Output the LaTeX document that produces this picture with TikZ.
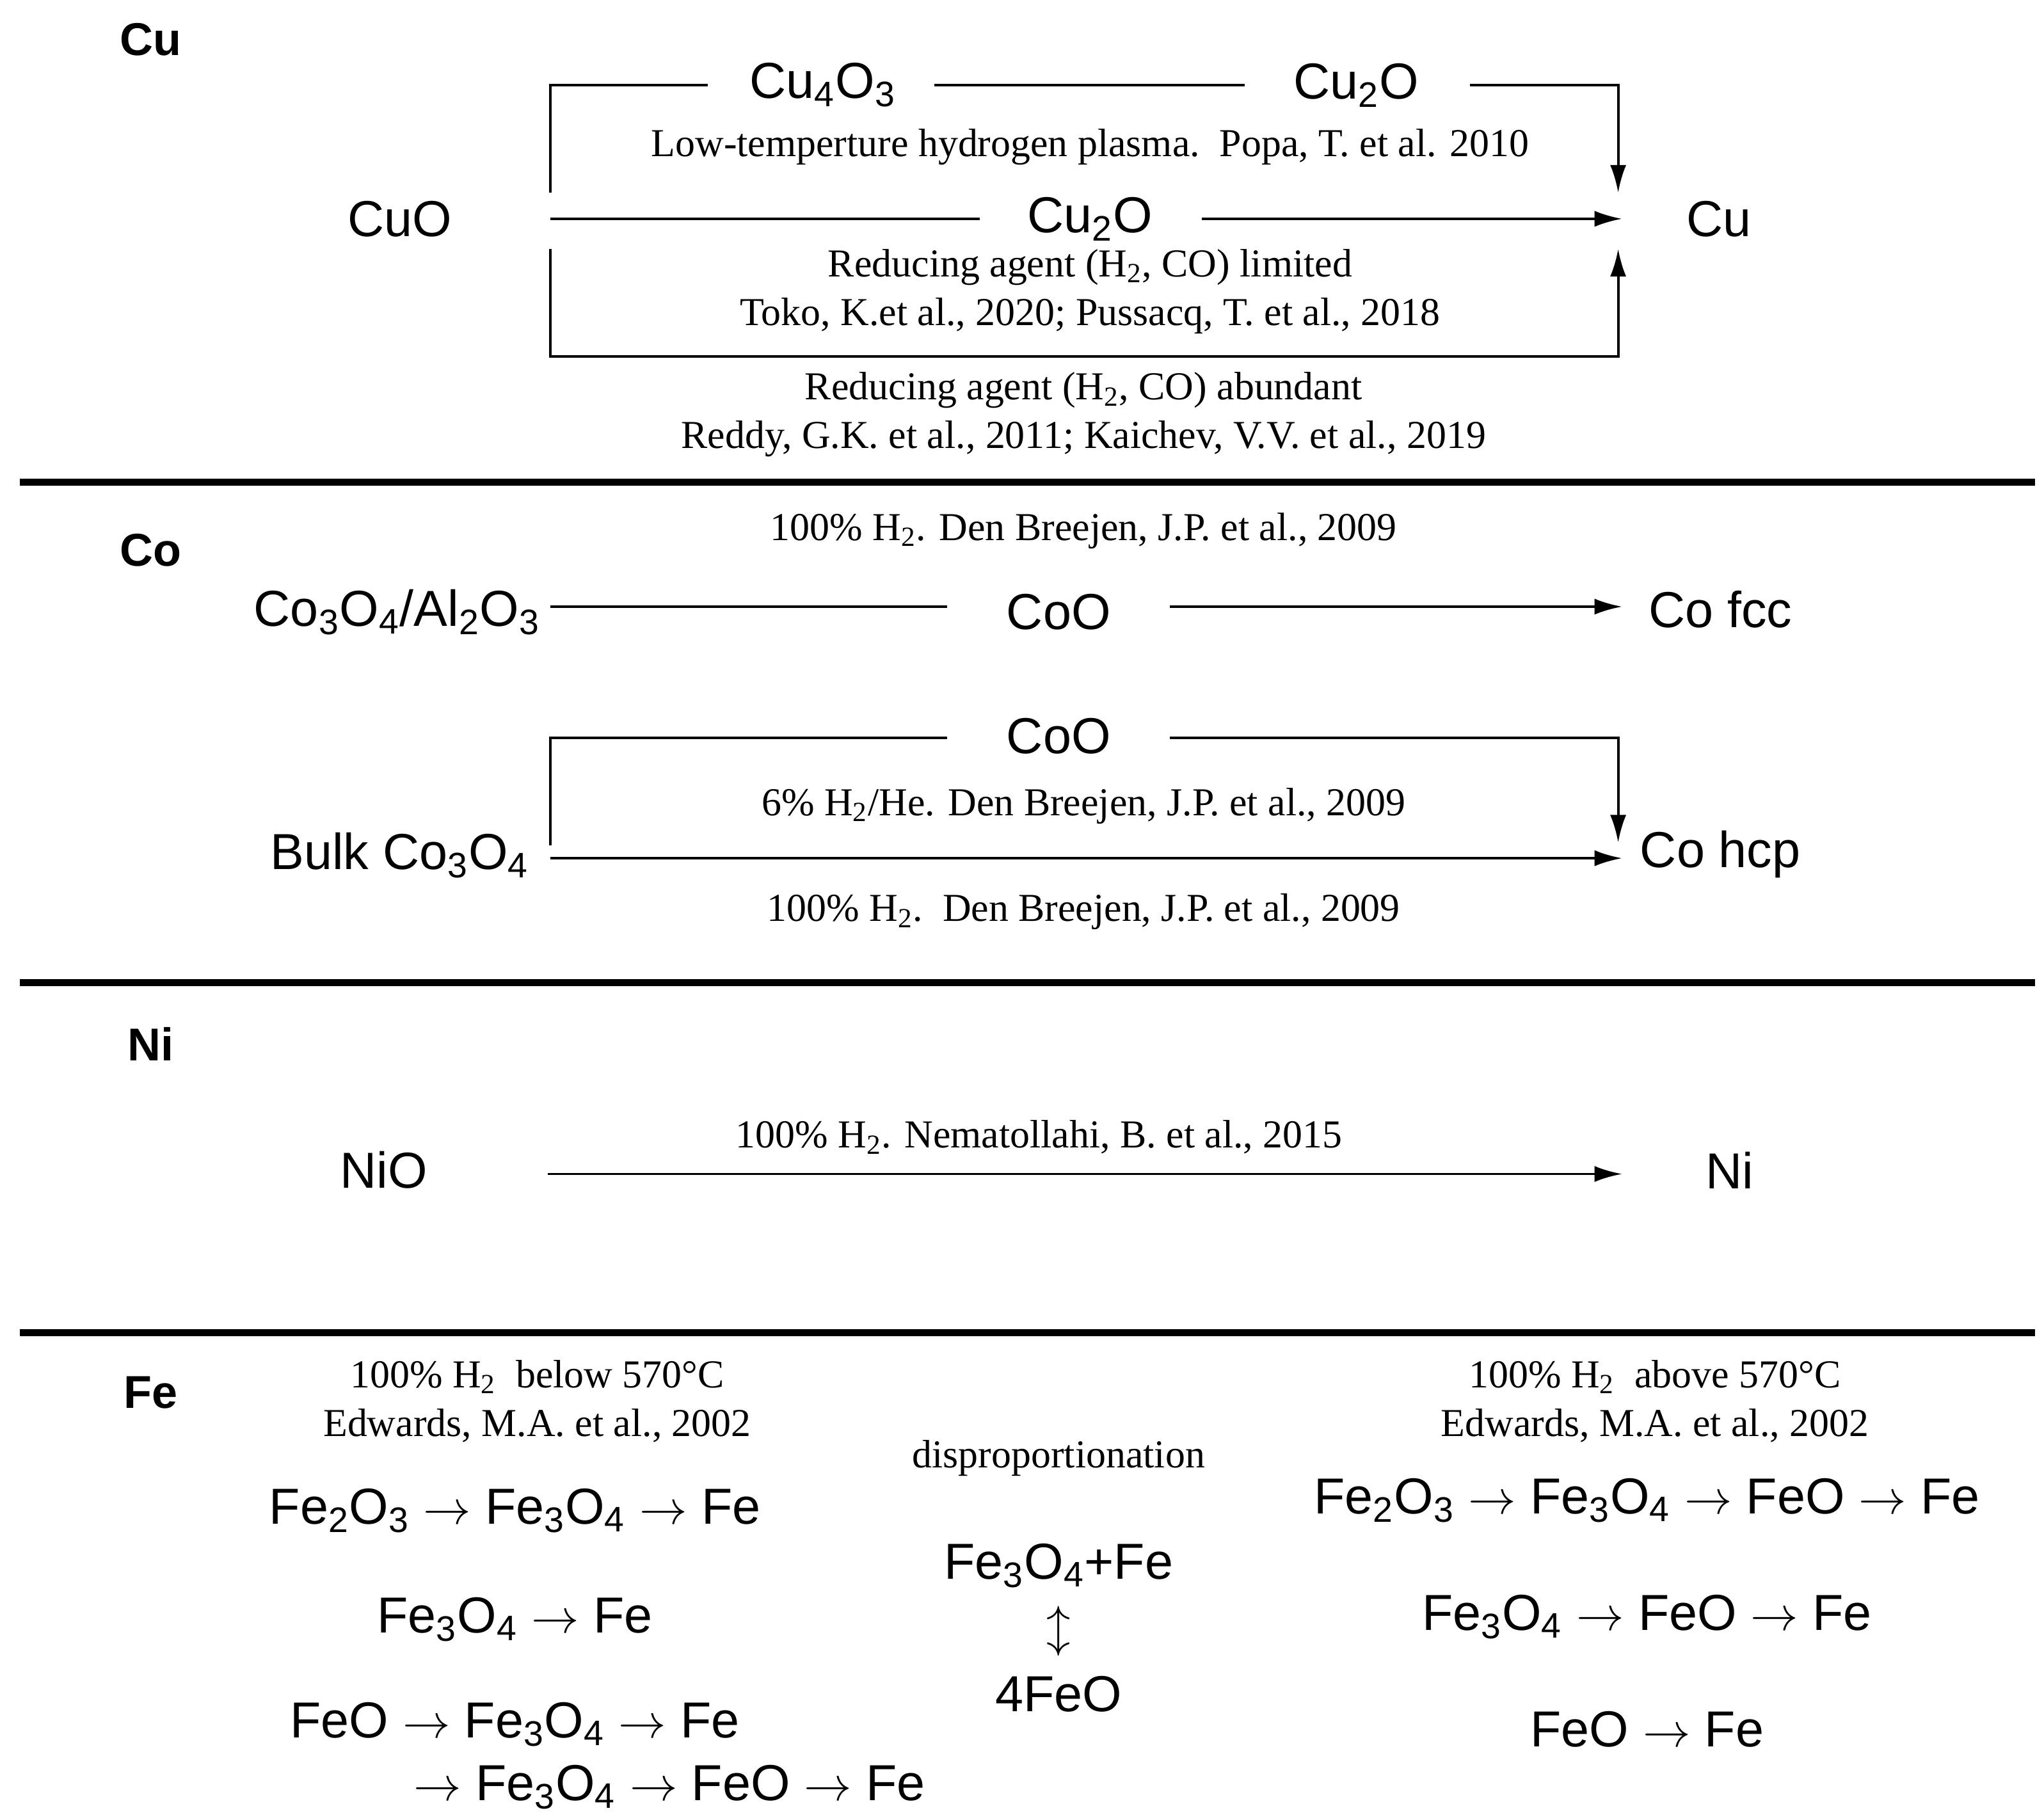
\documentclass[tikz,border=0pt]{standalone}
\usepackage{fontspec}
\setmainfont{Liberation Serif}
\newfontfamily\sansf{Liberation Sans}
\usetikzlibrary{arrows.meta}
\begin{document}
\begin{tikzpicture}[x=0.02cm,y=-0.02cm,
  chem/.style={font=\sansf\fontsize{22}{26}\selectfont,inner sep=1pt},
  sec/.style={font=\sansf\bfseries\fontsize{20}{24}\selectfont},
  lab/.style={font=\fontsize{17.2}{20}\selectfont,inner sep=1pt},
  ln/.style={line width=1.1pt},
  arr/.style={line width=1.1pt,-{Latex[length=12pt,width=7pt]}},
  sep/.style={line width=3pt}]
\useasboundingbox (0,0) rectangle (1560,1389);
\newcommand{\sub}[1]{\textsubscript{#1}}
% section labels
\node[sec] (sCu) at (115,30) {Cu};
\node[sec] (sCo) at (115,420) {Co};
\node[sec] (sNi) at (115,797) {Ni};
\node[sec] (sFe) at (115,1063) {Fe};
% separators
\coordinate (a1) at (15,368); \coordinate (a2) at (1553,368);
\coordinate (b1) at (15,750); \coordinate (b2) at (1553,750);
\coordinate (c1) at (15,1017); \coordinate (c2) at (1553,1017);
\draw[sep] (a1)--(a2); \draw[sep] (b1)--(b2); \draw[sep] (c1)--(c2);
% Cu
\node[chem] (CuO) at (305,167) {CuO};
\node[chem] (Cu) at (1312,167) {Cu};
\node[chem] (Cu4O3) at (628,65) {Cu\sub{4}O\sub{3}};
\node[chem] (Cu2Oa) at (1035,65) {Cu\sub{2}O};
\node[chem] (Cu2Ob) at (832,167) {Cu\sub{2}O};
\coordinate (t0) at (420,147); \coordinate (t1) at (420,65); \coordinate (t2) at (540,65);
\coordinate (t3) at (713,65); \coordinate (t4) at (950,65);
\coordinate (t5) at (1122,65); \coordinate (t6) at (1235,65); \coordinate (t7) at (1235,147);
\draw[ln] (t0)--(t1)--(t2); \draw[ln] (t3)--(t4);
\draw[arr] (t5)--(t6)--(t7);
\node[lab] (lCu1) at (832,112) {Low-temperture hydrogen plasma.\ \ Popa, T. et al. 2010};
\coordinate (m0) at (420,167); \coordinate (m1) at (748,167);
\coordinate (m2) at (917,167); \coordinate (m3) at (1238,167);
\draw[ln] (m0)--(m1); \draw[arr] (m2)--(m3);
\node[lab] (lCu2) at (832,204) {Reducing agent (H\sub{2}, CO) limited};
\node[lab] (lCu3) at (832,241) {Toko, K.et al., 2020; Pussacq, T. et al., 2018};
\coordinate (u0) at (420,190); \coordinate (u1) at (420,272);
\coordinate (u2) at (1235,272); \coordinate (u3) at (1235,190);
\draw[arr] (u0)--(u1)--(u2)--(u3);
\node[lab] (lCu4) at (827,298) {Reducing agent (H\sub{2}, CO) abundant};
\node[lab] (lCu5) at (827,335) {Reddy, G.K. et al., 2011; Kaichev, V.V. et al., 2019};
% Co
\node[lab] (lCo1) at (827,405) {100\% H\sub{2}. Den Breejen, J.P. et al., 2009};
\node[chem] (CoAl) at (303,467) {Co\sub{3}O\sub{4}/Al\sub{2}O\sub{3}};
\node[chem] (CoOa) at (808,467) {CoO};
\node[chem] (Cofcc) at (1313,465) {Co fcc};
\coordinate (p0) at (420,463); \coordinate (p1) at (723,463);
\coordinate (p2) at (893,463); \coordinate (p3) at (1238,463);
\draw[ln] (p0)--(p1); \draw[arr] (p2)--(p3);
\node[chem] (CoOb) at (808,562) {CoO};
\coordinate (q0) at (723,563); \coordinate (q1) at (420,563); \coordinate (q2) at (420,645);
\coordinate (q3) at (893,563); \coordinate (q4) at (1235,563); \coordinate (q5) at (1235,643);
\draw[ln] (q0)--(q1)--(q2); \draw[arr] (q3)--(q4)--(q5);
\node[lab] (lCo2) at (827,615) {6\% H\sub{2}/He. Den Breejen, J.P. et al., 2009};
\node[chem] (Bulk) at (305,653) {Bulk Co\sub{3}O\sub{4}};
\node[chem] (Cohcp) at (1313,652) {Co hcp};
\coordinate (r0) at (420,655); \coordinate (r1) at (1238,655);
\draw[arr] (r0)--(r1);
\node[lab] (lCo3) at (827,696) {100\% H\sub{2}.\ \ Den Breejen, J.P. et al., 2009};
% Ni
\node[chem] (NiO) at (293,893) {NiO};
\node[chem] (Ni) at (1320,893) {Ni};
\coordinate (n0) at (418,896); \coordinate (n1) at (1238,896);
\draw[arr] (n0)--(n1);
\node[lab] (lNi) at (793,868) {100\% H\sub{2}. Nematollahi, B. et al., 2015};
% Fe
\node[lab] (lFe1) at (410,1051) {100\% H\sub{2}\ \ below 570°C};
\node[lab] (lFe2) at (410,1088) {Edwards, M.A. et al., 2002};
\node[chem] (F1) at (393,1153) {Fe\sub{2}O\sub{3} $\rightarrow$ Fe\sub{3}O\sub{4} $\rightarrow$ Fe};
\node[chem] (F2) at (393,1236) {Fe\sub{3}O\sub{4} $\rightarrow$ Fe};
\node[chem] (F3) at (393,1316) {FeO $\rightarrow$ Fe\sub{3}O\sub{4} $\rightarrow$ Fe};
\node[chem] (F4) at (511,1364) {$\rightarrow$ Fe\sub{3}O\sub{4} $\rightarrow$ FeO $\rightarrow$ Fe};
\node[lab] (lD) at (808,1113) {disproportionation};
\node[chem] (D1) at (808,1195) {Fe\sub{3}O\sub{4}+Fe};
\node[chem] (D2) at (808,1245) {$\updownarrow$};
\node[chem] (D3) at (808,1293) {4FeO};
\node[lab] (lFe3) at (1263,1051) {100\% H\sub{2}\ \ above 570°C};
\node[lab] (lFe4) at (1263,1088) {Edwards, M.A. et al., 2002};
\node[chem] (G1) at (1257,1145) {Fe\sub{2}O\sub{3} $\rightarrow$ Fe\sub{3}O\sub{4} $\rightarrow$ FeO $\rightarrow$ Fe};
\node[chem] (G2) at (1257,1234) {Fe\sub{3}O\sub{4} $\rightarrow$ FeO $\rightarrow$ Fe};
\node[chem] (G3) at (1257,1320) {FeO $\rightarrow$ Fe};
\end{tikzpicture}
\end{document}
